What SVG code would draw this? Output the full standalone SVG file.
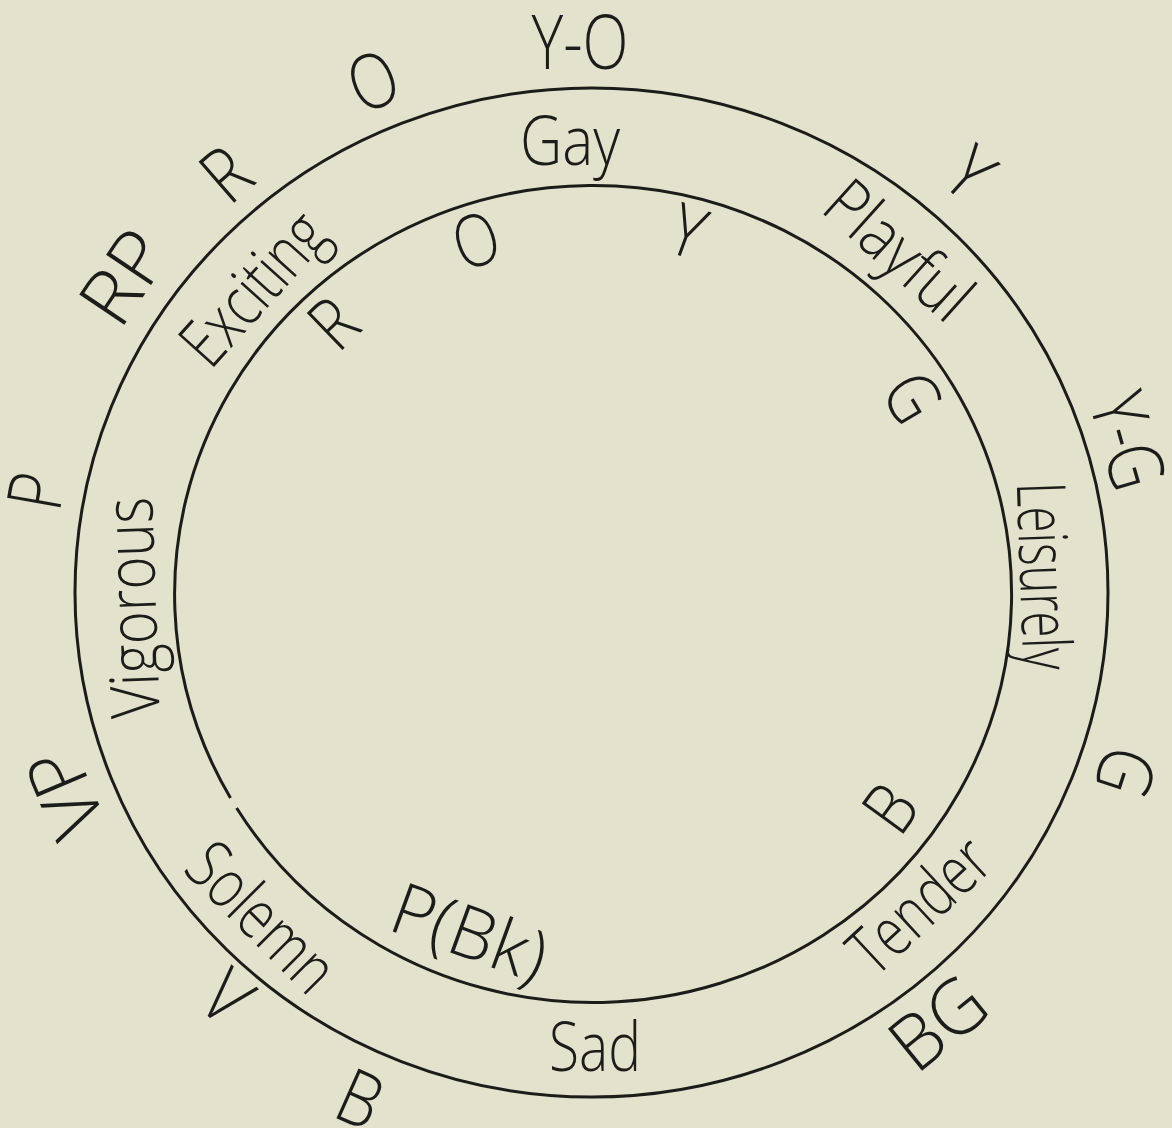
<svg xmlns="http://www.w3.org/2000/svg" width="1172" height="1128" viewBox="0 0 1172 1128">
<style>
.bg{fill:#e3e2cc}
.ring{fill:none;stroke:#1c1c1a;stroke-width:3}
text{font-family:"Open Sans","Liberation Sans",sans-serif;fill:#1c1c1a;text-anchor:middle}
.out{font-size:76px;font-weight:300}
.inn{font-size:72px;font-weight:300}
.band{font-size:68px;font-weight:300}
</style>
<rect class="bg" x="0" y="0" width="1172" height="1128"/>
<g id="connectors">
<ellipse class="ring" cx="591.5" cy="592.5" rx="516.5" ry="504.5"/>
<path class="ring" d="M 236.6 808 A 418.5 408.5 0 1 0 230.5 798"/>
</g>
<g id="outer-YO"><text class="out" transform="translate(580 42) rotate(0)" y="27" textLength="97" lengthAdjust="spacingAndGlyphs">Y-O</text></g>
<g id="outer-O"><text class="out" transform="translate(373 81) rotate(-23) scale(0.82 1)" y="27">O</text></g>
<g id="outer-R"><text class="out" transform="translate(226 174) rotate(-41) scale(0.85 1)" y="27">R</text></g>
<g id="outer-RP"><text class="out" transform="translate(124 277) rotate(-56)" y="27" textLength="95" lengthAdjust="spacingAndGlyphs">RP</text></g>
<g id="outer-P"><text class="out" transform="translate(36 491) rotate(-80) scale(0.8 1)" y="27">P</text></g>
<g id="outer-VP"><text class="out" transform="translate(65 793) rotate(-113)" y="27" textLength="88" lengthAdjust="spacingAndGlyphs">VP</text></g>
<g id="outer-V"><text class="out" transform="translate(227 997) rotate(42) scale(0.85 1)" y="27">V</text></g>
<g id="outer-B"><text class="out" transform="translate(360 1099) rotate(24) scale(0.85 1)" y="27">B</text></g>
<g id="outer-BG"><text class="out" transform="translate(938 1023) rotate(-39)" y="27" textLength="100" lengthAdjust="spacingAndGlyphs">BG</text></g>
<g id="outer-G"><text class="out" transform="translate(1126 772) rotate(108) scale(0.85 1)" y="27">G</text></g>
<g id="outer-YG"><text class="out" transform="translate(1128 441) rotate(74)" y="27" textLength="96" lengthAdjust="spacingAndGlyphs">Y-G</text></g>
<g id="outer-Y"><text class="out" transform="translate(970 173) rotate(42) scale(0.85 1)" y="27">Y</text></g>
<g id="inner-R"><text class="inn" transform="translate(333 323) rotate(-44) scale(0.85 1)" y="26">R</text></g>
<g id="inner-O"><text class="inn" transform="translate(476 240) rotate(-18) scale(0.82 1)" y="26">O</text></g>
<g id="inner-Y"><text class="inn" transform="translate(688 231) rotate(20) scale(0.85 1)" y="26">Y</text></g>
<g id="inner-G"><text class="inn" transform="translate(913 397) rotate(59) scale(0.85 1)" y="26">G</text></g>
<g id="inner-B"><text class="inn" transform="translate(890 808) rotate(-54) scale(0.85 1)" y="26">B</text></g>
<g id="inner-PBk"><text class="inn" transform="translate(470 932) rotate(20)" y="26" textLength="160" lengthAdjust="spacingAndGlyphs">P(Bk)</text></g>
<g id="band-Gay"><text class="band" transform="translate(570 141) rotate(0)" y="24" textLength="100" lengthAdjust="spacingAndGlyphs">Gay</text></g>
<g id="band-Playful"><text class="band" transform="translate(899 250) rotate(42)" y="24" textLength="172" lengthAdjust="spacingAndGlyphs">Playful</text></g>
<g id="band-Leisurely"><text class="band" transform="translate(1044 576) rotate(88)" y="24" textLength="188" lengthAdjust="spacingAndGlyphs">Leisurely</text></g>
<g id="band-Tender"><text class="band" transform="translate(919 905) rotate(-43)" y="24" textLength="165" lengthAdjust="spacingAndGlyphs">Tender</text></g>
<g id="band-Sad"><text class="band" transform="translate(595 1047) rotate(0)" y="24" textLength="92" lengthAdjust="spacingAndGlyphs">Sad</text></g>
<g id="band-Solemn"><text class="band" transform="translate(262 917) rotate(45)" y="24" textLength="180" lengthAdjust="spacingAndGlyphs">Solemn</text></g>
<g id="band-Vigorous"><text class="band" transform="translate(132 608) rotate(-92)" y="24" textLength="221" lengthAdjust="spacingAndGlyphs">Vigorous</text></g>
<g id="band-Exciting"><text class="band" transform="translate(253 288) rotate(-48)" y="24" textLength="180" lengthAdjust="spacingAndGlyphs">Exciting</text></g>
</svg>
